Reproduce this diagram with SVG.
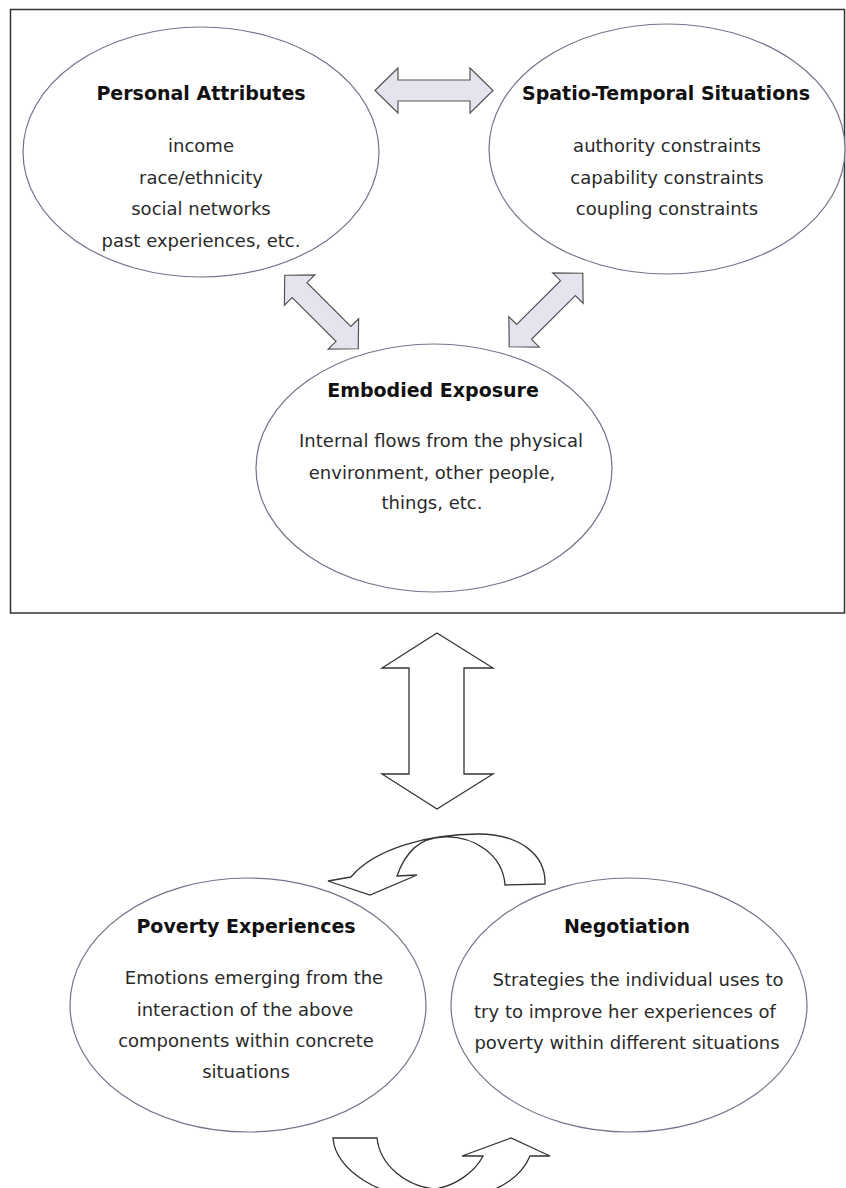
<svg xmlns="http://www.w3.org/2000/svg" width="846" height="1188" viewBox="0 0 846 1188">
<style>
  .frame{fill:none;stroke:#333;stroke-width:1.5}
  .node{fill:#fff;stroke:#74748a;stroke-width:1.2}
  .title{font-family:"DejaVu Sans",Verdana,sans-serif;font-weight:bold;font-size:19px;fill:#111;text-anchor:middle}
  .body{font-family:"DejaVu Sans",Verdana,sans-serif;font-size:18px;fill:#2a2a2a;text-anchor:middle}
  .dbl{fill:#e4e4ee;stroke:#555;stroke-width:1.2;stroke-linejoin:miter}
  .open{fill:#fff;stroke:#333;stroke-width:1.3;stroke-linejoin:miter}
</style>
<defs>
  <polygon id="diag" points="-52,0 -31,-21.5 -31,-10.5 31,-10.5 31,-21.5 52,0 31,21.5 31,10.5 -31,10.5 -31,21.5"/>
</defs>
<rect width="846" height="1188" fill="#fff"/>
<rect class="frame" x="10.5" y="9.5" width="834" height="603.5"/>

<g id="personal-attributes">
  <ellipse class="node" cx="201" cy="152" rx="178" ry="125"/>
  <text class="title" x="201" y="100">Personal Attributes</text>
  <text class="body" x="201" y="152">income</text>
  <text class="body" x="201" y="184">race/ethnicity</text>
  <text class="body" x="201" y="215">social networks</text>
  <text class="body" x="201" y="247">past experiences, etc.</text>
</g>

<g id="spatio-temporal-situations">
  <ellipse class="node" cx="667" cy="149" rx="178" ry="125"/>
  <text class="title" x="666" y="100">Spatio-Temporal Situations</text>
  <text class="body" x="667" y="152">authority constraints</text>
  <text class="body" x="667" y="184">capability constraints</text>
  <text class="body" x="667" y="215">coupling constraints</text>
</g>

<g id="embodied-exposure">
  <ellipse class="node" cx="434" cy="468" rx="178" ry="124"/>
  <text class="title" x="433" y="397">Embodied Exposure</text>
  <text class="body" x="441" y="447">Internal flows from the physical</text>
  <text class="body" x="432" y="479">environment, other people,</text>
  <text class="body" x="432" y="509">things, etc.</text>
</g>

<g id="poverty-experiences">
  <ellipse class="node" cx="248" cy="1005" rx="178" ry="127"/>
  <text class="title" x="246" y="933">Poverty Experiences</text>
  <text class="body" x="254" y="984">Emotions emerging from the</text>
  <text class="body" x="245" y="1016">interaction of the above</text>
  <text class="body" x="246" y="1047">components within concrete</text>
  <text class="body" x="246" y="1078">situations</text>
</g>

<g id="negotiation">
  <ellipse class="node" cx="629" cy="1005" rx="178" ry="127"/>
  <text class="title" x="627" y="933">Negotiation</text>
  <text class="body" x="638" y="986">Strategies the individual uses to</text>
  <text class="body" x="625" y="1018">try to improve her experiences of</text>
  <text class="body" x="627" y="1049">poverty within different situations</text>
</g>

<g id="connectors">
  <polygon class="dbl" points="375,90.5 398,68 398,80 470,80 470,68 493,90.5 470,113 470,101 398,101 398,113"/>
  <use href="#diag" class="dbl" transform="translate(321.5,312) rotate(45)"/>
  <use href="#diag" class="dbl" transform="translate(546,310) rotate(-45)"/>
  <polygon class="open" points="437,633 493,668 464,668 464,774 493,774 437,809 382,774 409,774 409,668 382,668"/>
  <path class="open" d="M351,877 L328,881 L370,895 L417,875 L397,876 C405,853 420,838 442,837 C474,835 503,855 505,885 L545,884 C546,855 520,834 478,834 C430,834 375,848 351,877 Z"/>
  <path class="open" d="M333,1138 L377,1138 C380,1165 405,1186 435,1189 C455,1186 475,1172 483,1156 L462,1156 L511,1138 L550,1156 L530,1156 C518,1185 480,1200 440,1200 C380,1200 335,1170 333,1138 Z"/>
</g>
</svg>
